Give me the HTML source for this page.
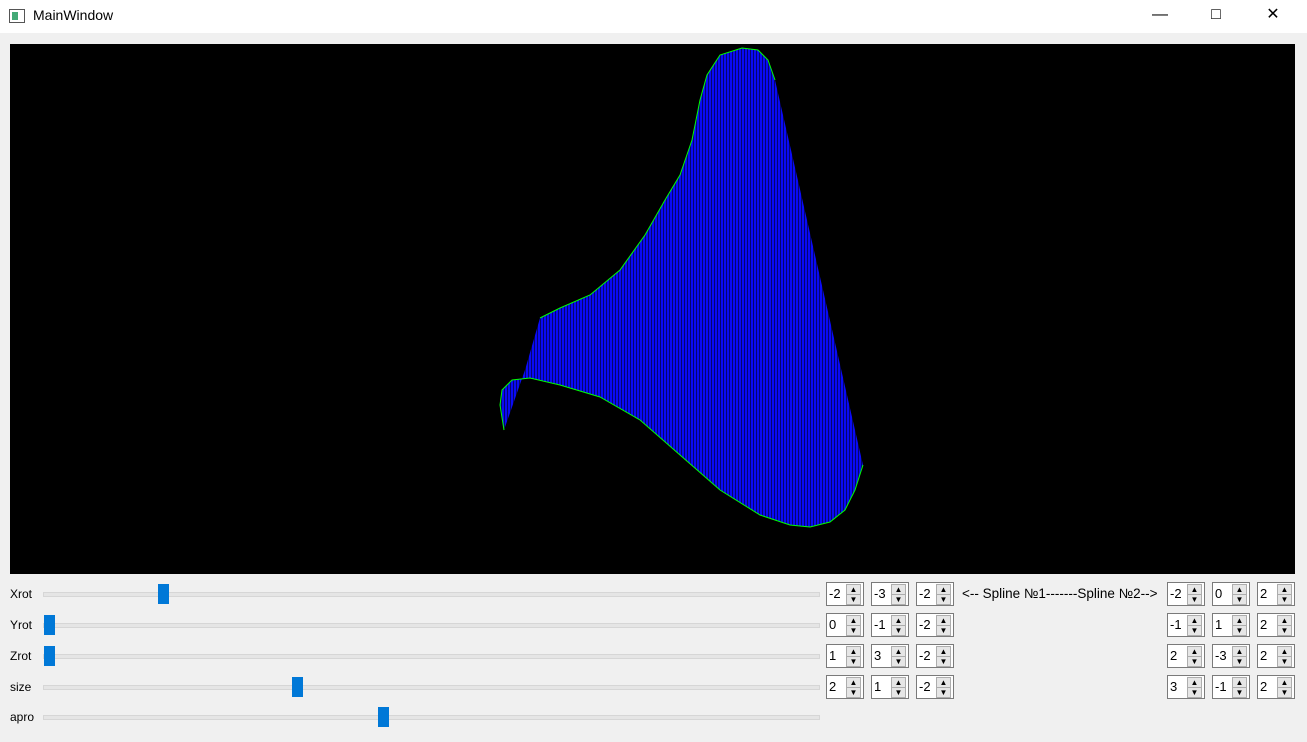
<!DOCTYPE html>
<html><head><meta charset="utf-8"><style>
body{margin:0;width:1307px;height:742px;background:#f0f0f0;font-family:"Liberation Sans",sans-serif;position:relative;overflow:hidden}
.title{position:absolute;left:0;top:0;width:1307px;height:33px;background:#fff}
.title span{position:absolute;left:33px;top:7px;font-size:14px;color:#000}
.wbtn{position:absolute;top:0;width:46px;height:30px;font-size:16px;text-align:center;line-height:30px;color:#000}
#canvas{position:absolute;left:10px;top:44px;width:1285px;height:530px;background:#000}
.lbl{position:absolute;left:10px;font-size:12px;color:#000}
.groove{position:absolute;left:43px;width:775px;height:3px;background:#e5e5e5;border:1px solid #d6d6d6}
.handle{position:absolute;width:11px;height:20px;background:#0078d7}
.spin{position:absolute;width:36px;height:22px;background:#fff;border:1px solid #7a7a7a;font-size:13px}
.spin .v{position:absolute;left:2px;top:3px}
.spin .a{position:absolute;right:2px;width:13px;height:9px;background:#e6e6e6;border:1px solid #adadad;font-size:8px;line-height:9px;text-align:center}
</style></head><body>
<div class="title">
<svg style="position:absolute;left:9px;top:9px" width="16" height="14"><rect x="0.5" y="0.5" width="15" height="13" fill="#fff" stroke="#555"/><rect x="3" y="3" width="6" height="8" fill="#4a7"/></svg>
<span>MainWindow</span>
<div class="wbtn" style="left:1137px">&#8212;</div>
<div class="wbtn" style="left:1193px">&#9633;</div>
<div class="wbtn" style="left:1250px">&#10005;</div>
</div>
<div id="canvas">
<svg id="surf" width="1285" height="530">
<defs><pattern id="stripes" width="3" height="4" patternUnits="userSpaceOnUse"><rect width="3" height="4" fill="#0a0af5"/><rect x="2" width="1" height="4" fill="#000" opacity="0.55"/></pattern></defs>
</svg>
</div>
<div id="controls"></div>
<div style="position:absolute;left:962px;top:586px;font-size:13.5px">&lt;-- Spline №1-------Spline №2--&gt;</div>
<script>
// surface outline data (x, y in window pixels)
const topCurveX=[540,560,590,620,645,665,680,692,700,707,720,742,758,768,775];
const topCurveY=[318,308,295,270,235,200,175,140,100,75,55,48,50,60,80];
const bottomCurveX=[863,855,845,830,810,790,760,720,680,640,600,560,530,512,502,500,504];
const bottomCurveY=[465,490,510,522,527,525,515,490,455,420,397,385,378,380,390,405,430];
const leftEdgeX=[504,525,540];
const leftEdgeY=[430,370,318];
const ox=10, oy=44;
const svg=document.getElementById('surf');
const NS='http://www.w3.org/2000/svg';
function pts(xs,ys){return xs.map((x,i)=>(x-ox)+','+(ys[i]-oy)).join(' ');}
const poly=document.createElementNS(NS,'polygon');
poly.setAttribute('points',pts(topCurveX,topCurveY)+' '+pts(bottomCurveX,bottomCurveY)+' '+pts(leftEdgeX,leftEdgeY));
poly.setAttribute('fill','url(#stripes)');


svg.appendChild(poly);
[[topCurveX,topCurveY,'spline-1-curve'],[bottomCurveX,bottomCurveY,'spline-2-curve']].forEach(([xs,ys,n])=>{
 const pl=document.createElementNS(NS,'polyline');
 pl.setAttribute('points',pts(xs,ys));
 pl.setAttribute('fill','none');pl.setAttribute('stroke','#00ff00');pl.setAttribute('stroke-width','1');
 
 
 svg.appendChild(pl);
});
// controls
const sliderNames=['Xrot','Yrot','Zrot','size','apro'];
const sliderPos=[163,49,49,297,383];
const rowsY=[594,625,656,687,717];
const spinLeft=[[-2,-3,-2],[0,-1,-2],[1,3,-2],[2,1,-2]];
const spinRight=[[-2,0,2],[-1,1,2],[2,-3,2],[3,-1,2]];
const c=document.getElementById('controls');
let h='';
sliderNames.forEach((n,i)=>{
 const y=rowsY[i];
 h+=`<div class="lbl" style="top:${y-7}px">${n}</div>`;
 h+=`<div class="groove" style="top:${y-2}px"></div>`;
 h+=`<div class="handle" style="left:${sliderPos[i]-5}px;top:${y-10}px"></div>`;
});
function spin(x,y,v,name){return `<div class="spin" style="left:${x}px;top:${y}px"><span class="v">${v}</span><div class="a" style="top:1px">&#9650;</div><div class="a" style="top:11px">&#9660;</div></div>`;}
const lx=[826,871,916], rx=[1167,1212,1257];
for(let r=0;r<4;r++){
 const y=582+r*31;
 for(let k=0;k<3;k++){
  h+=spin(lx[k],y,spinLeft[r][k],`spline1-p${r+1}-${'xyz'[k]}`);
  h+=spin(rx[k],y,spinRight[r][k],`spline2-p${r+1}-${'xyz'[k]}`);
 }
}
c.innerHTML=h;
</script>
</body></html>
